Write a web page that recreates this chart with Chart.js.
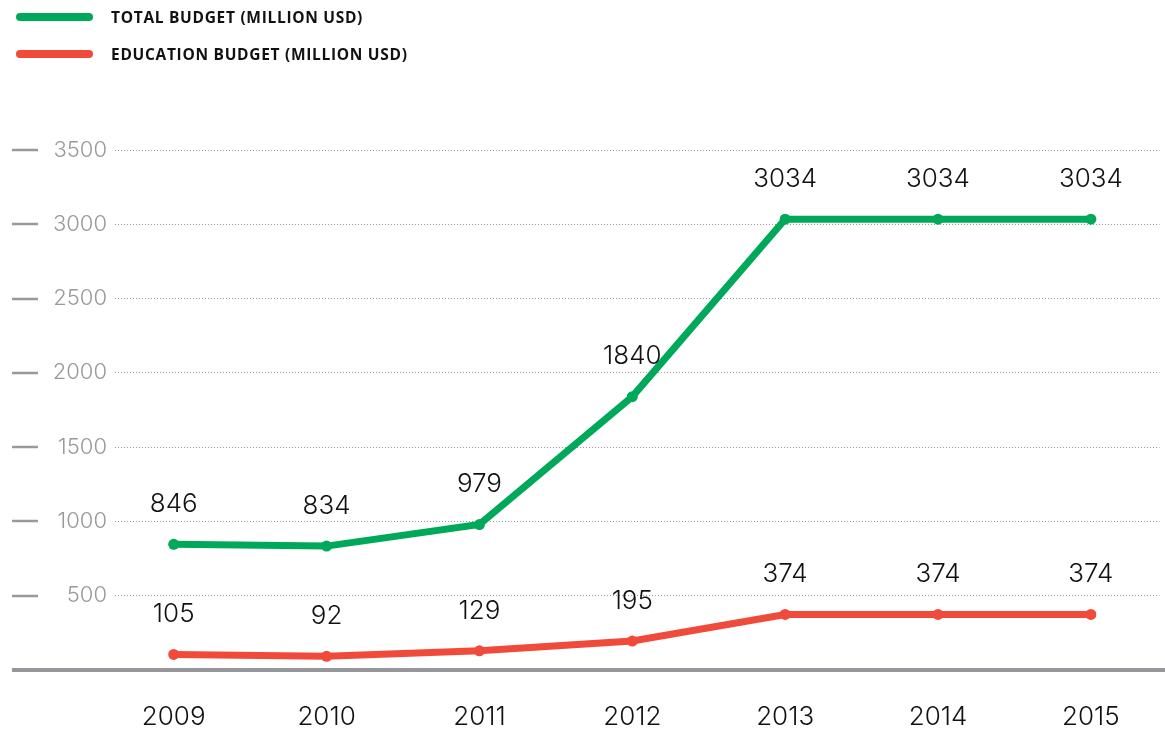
<!DOCTYPE html>
<html>
<head>
<meta charset="utf-8">
<script src="https://cdn.jsdelivr.net/npm/chart.js@4"></script>
<style>
  body { margin: 0; background: #fff; }
  #wrap { position: relative; width: 1165px; height: 732px; }
  .leg { position: absolute; left: 16px; height: 20px; display: flex; align-items: center;
         font-family: "Open Sans", sans-serif; font-weight: 700; font-size: 15.5px; letter-spacing: 0.7px; color: #111; }
  .leg i { display: inline-block; width: 77px; height: 8px; border-radius: 4px; margin-right: 18px; }
  canvas { position: absolute; left: 0; top: 0; }
</style>
</head>
<body>
<div id="wrap">
  <canvas id="myChart" width="1165" height="732"></canvas>
  <div class="leg" style="top:7px"><i style="background:#00a85a"></i>TOTAL BUDGET (MILLION USD)</div>
  <div class="leg" style="top:44px"><i style="background:#f04b3a"></i>EDUCATION BUDGET (MILLION USD)</div>
</div>
<script>
const years = [2009, 2010, 2011, 2012, 2013, 2014, 2015];
const totalBudget = [846, 834, 979, 1840, 3034, 3034, 3034];
const educationBudget = [105, 92, 129, 195, 374, 374, 374];
const yTicks = [0, 500, 1000, 1500, 2000, 2500, 3000, 3500];

const green = "#00a85a";
const red = "#f04b3a";
const grey = "#999999";
const numFont = "Inter, sans-serif";

// value labels above each point
const valueLabels = {
  id: "valueLabels",
  afterDatasetsDraw(chart) {
    const ctx = chart.ctx;
    ctx.save();
    ctx.font = "300 26px " + numFont;
    ctx.fillStyle = "#111";
    ctx.textAlign = "center";
    ctx.textBaseline = "middle";
    chart.data.datasets.forEach((ds, i) => {
      chart.getDatasetMeta(i).data.forEach((pt, j) => {
        ctx.fillText(String(ds.data[j].y), pt.x, pt.y - 40);
      });
    });
    ctx.restore();
  }
};

// little dashes left of the y labels + thick baseline
const axisDecor = {
  id: "axisDecor",
  beforeDatasetsDraw(chart) {
    const ctx = chart.ctx;
    const y = chart.scales.y;
    ctx.save();
    ctx.strokeStyle = grey;
    ctx.lineWidth = 2.5;
    yTicks.forEach((v) => {
      if (v === 0) return;
      const py = Math.round(y.getPixelForValue(v));
      ctx.beginPath();
      ctx.moveTo(12, py);
      ctx.lineTo(38, py);
      ctx.stroke();
    });
    ctx.strokeStyle = "#96969a";
    ctx.lineWidth = 4;
    const by = y.getPixelForValue(0);
    ctx.beginPath();
    ctx.moveTo(12, by);
    ctx.lineTo(chart.width, by);
    ctx.stroke();
    ctx.restore();
  }
};

const toPoints = (arr) => arr.map((v, i) => ({ x: years[i], y: v }));

const ctx = document.getElementById("myChart").getContext("2d");
window.grafica = new Chart(ctx, {
  type: "line",
  data: {
    datasets: [
      {
        label: "Total budget (million USD)",
        data: toPoints(totalBudget),
        borderColor: green,
        backgroundColor: green,
        borderWidth: 7,
        pointRadius: 5.5,
        pointBorderWidth: 0,
        pointHoverRadius: 5.5,
        tension: 0,
      },
      {
        label: "Education budget (million USD)",
        data: toPoints(educationBudget),
        borderColor: red,
        backgroundColor: red,
        borderWidth: 7,
        pointRadius: 5.5,
        pointBorderWidth: 0,
        pointHoverRadius: 5.5,
        tension: 0,
      },
    ],
  },
  options: {
    responsive: false,
    animation: false,
    layout: { padding: { top: 150, left: 0, right: 0, bottom: 0 } },
    plugins: { legend: { display: false }, tooltip: { enabled: false } },
    scales: {
      x: {
        type: "linear",
        min: 2008.616,
        max: 2015.449,
        afterBuildTicks: (s) => { s.ticks = years.map((v) => ({ value: v })); },
        afterFit: (s) => { s.height = 62; s.paddingLeft = 0; s.paddingRight = 0; },
        grid: { display: false, drawTicks: false },
        border: { display: false },
        ticks: {
          padding: 32,
          color: "#111",
          font: { family: numFont, size: 26, weight: 300 },
          callback: (v) => String(v),
        },
      },
      y: {
        min: 0,
        max: 3500,
        afterBuildTicks: (s) => { s.ticks = yTicks.map((v) => ({ value: v })); },
        afterFit: (s) => { s.width = 115; },
        grid: {
          drawTicks: false,
          color: (c) => (c.tick && c.tick.value === 0 ? "rgba(0,0,0,0)" : "#9a9a9a"),
          lineWidth: 1,
        },
        border: { display: false, dash: [1, 2] },
        ticks: {
          padding: 8,
          color: grey,
          font: { family: numFont, size: 22, weight: 300 },
          callback: (v) => (v === 0 ? "" : String(v)),
        },
      },
    },
  },
  plugins: [axisDecor, valueLabels],
});
</script>
</body>
</html>
